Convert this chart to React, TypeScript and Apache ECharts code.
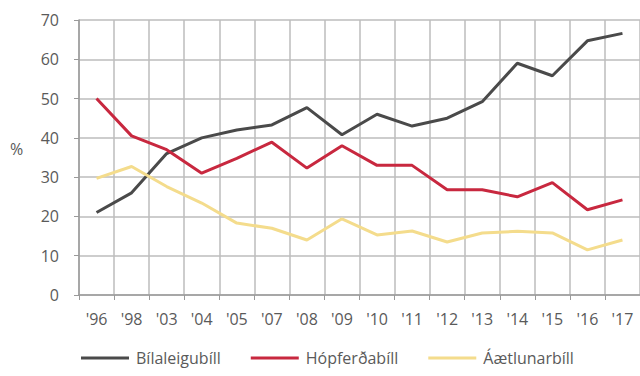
import React, { useEffect, useRef } from "react";
import * as echarts from "echarts";

const categories = ["'96", "'98", "'03", "'04", "'05", "'07", "'08", "'09", "'10", "'11", "'12", "'13", "'14", "'15", "'16", "'17"];
const yTicks = [0, 10, 20, 30, 40, 50, 60, 70];
const rental = [21, 26, 36, 40, 42, 43.3, 47.7, 40.8, 46, 43, 45, 49.2, 59, 55.8, 64.7, 66.6];
const tour = [50, 40.5, 37, 31, 34.8, 38.9, 32.3, 38, 33, 33, 26.8, 26.8, 25, 28.6, 21.7, 24.2];
const scheduled = [29.7, 32.7, 27.6, 23.4, 18.3, 17, 14, 19.4, 15.3, 16.3, 13.5, 15.8, 16.2, 15.8, 11.5, 14];
const seriesNames = ["Bílaleigubíll", "Hópferðabíll", "Áætlunarbíll"];
const yUnit = "%";

export default function App() {
  const ref = useRef<HTMLDivElement>(null);
  useEffect(() => {
    if (!ref.current) return;
    const chart = echarts.init(ref.current, null, { renderer: "svg" });
    const font = "'Open Sans', 'Liberation Sans', sans-serif";
    const textColor = "#5a5a5a";
    const mk = (name: string, data: number[], color: string, width: number) => ({
      name,
      type: "line",
      data,
      symbol: "none",
      lineStyle: { color, width },
      itemStyle: { color },
    });
    chart.setOption({
      animation: false,
      backgroundColor: "#ffffff",
      textStyle: { fontFamily: font },
      grid: { left: 79, right: -4, top: 20, bottom: 81 },
      graphic: [
        {
          type: "text",
          left: 10,
          top: 141,
          style: { text: yUnit, fill: textColor, fontSize: 16, fontFamily: font },
        },
      ],
      legend: {
        top: 350,
        left: 81,
        itemWidth: 48,
        itemHeight: 3,
        itemGap: 30,
        icon: "rect",
        padding: 0,
        textStyle: { color: textColor, fontSize: 16, fontFamily: font, padding: [0, 0, 0, 2] },
        data: seriesNames,
      },
      xAxis: {
        type: "category",
        data: categories,
        boundaryGap: true,
        axisLine: { lineStyle: { color: "#9a9a9a", width: 1.5 } },
        axisTick: { show: true, length: 5, lineStyle: { color: "#9a9a9a" } },
        axisLabel: { color: textColor, fontSize: 16, margin: 16, fontFamily: font },
        splitLine: { show: true, lineStyle: { color: "#bdbdbd", width: 1.5 } },
      },
      yAxis: {
        type: "value",
        min: yTicks[0],
        max: yTicks[yTicks.length - 1],
        interval: 10,
        axisLine: { show: true, lineStyle: { color: "#9a9a9a", width: 1.5 } },
        axisTick: { show: true, length: 5, lineStyle: { color: "#9a9a9a" } },
        axisLabel: { color: textColor, fontSize: 16, margin: 20, fontFamily: font },
        splitLine: { show: true, lineStyle: { color: "#bdbdbd", width: 1.5 } },
      },
      series: [
        mk(seriesNames[0], rental, "#4a4a4a", 3),
        mk(seriesNames[1], tour, "#c8283f", 3),
        mk(seriesNames[2], scheduled, "#f4dc8c", 3),
      ],
    });
    return () => chart.dispose();
  }, []);
  return <div ref={ref} style={{ width: 640, height: 376, position: "absolute", left: 0, top: 0 }} />;
}
